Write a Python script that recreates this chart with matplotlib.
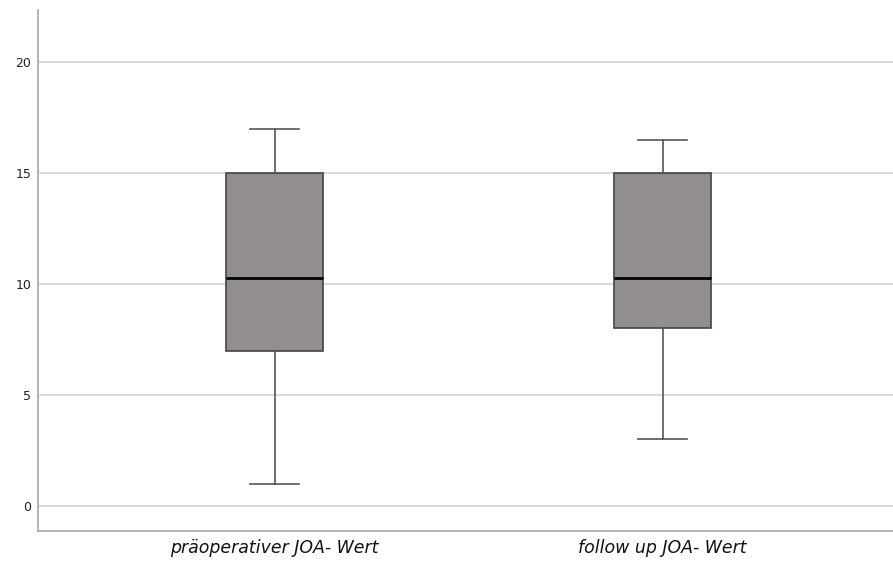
import matplotlib
matplotlib.use("Agg")
import matplotlib.pyplot as plt

# Kennwerte der beiden Boxplots
kategorien = ["präoperativer JOA- Wert", "follow up JOA- Wert"]
whisker_unten = [1.0, 3.0]
q1 = [7.0, 8.0]
median = [10.25, 10.25]
q3 = [15.0, 15.0]
whisker_oben = [17.0, 16.5]
y_ticks = [0, 5, 10, 15, 20]

stats = []
for i, name in enumerate(kategorien):
    stats.append({
        "label": name,
        "whislo": whisker_unten[i],
        "q1": q1[i],
        "med": median[i],
        "q3": q3[i],
        "whishi": whisker_oben[i],
        "fliers": [],
    })

fig = plt.figure(figsize=(8.93, 5.62), dpi=100)
ax = fig.add_axes([0.0426, 0.0552, 0.9574, 0.9268])

ax.bxp(
    stats,
    positions=[1, 2],
    widths=0.25,
    patch_artist=True,
    boxprops=dict(facecolor="#928e8d", edgecolor="#444444", linewidth=1.2),
    medianprops=dict(color="black", linewidth=2),
    whiskerprops=dict(color="#555555", linewidth=1.2),
    capprops=dict(color="#555555", linewidth=1.2),
    capwidths=0.125,
    zorder=3,
)

ax.set_xlim(0.3905, 2.594)
ax.set_ylim(-1.126, 22.34)
ax.set_yticks(y_ticks)
ax.yaxis.grid(True, color="#d3d3d3", linewidth=1.2, zorder=0)
ax.set_axisbelow(True)

ax.tick_params(axis="both", length=0)
ax.tick_params(axis="y", labelsize=9, labelcolor="#222222", pad=5)
ax.tick_params(axis="x", pad=6)
for lbl in ax.get_xticklabels():
    lbl.set_fontstyle("italic")
    lbl.set_fontsize(12.5)
    lbl.set_color("#111111")

for side in ["top", "right"]:
    ax.spines[side].set_visible(False)
for side in ["left", "bottom"]:
    ax.spines[side].set_color("#b0b0b0")
    ax.spines[side].set_linewidth(1.3)

fig.savefig("out.png", dpi=100)
